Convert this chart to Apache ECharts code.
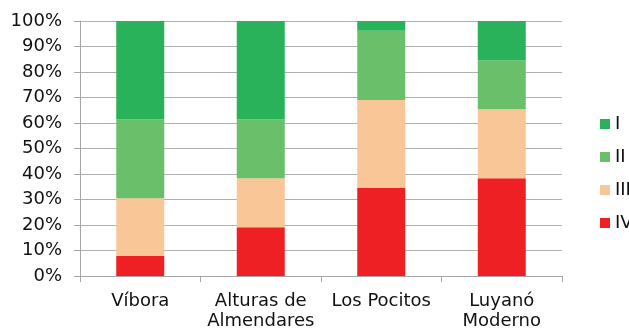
<!DOCTYPE html>
<html lang="es">
<head>
    <meta charset="UTF-8">
    <title>Distribución por categoría</title>
    <script src="https://cdn.jsdelivr.net/npm/echarts/dist/echarts.min.js"></script>
    <style>
        body {
            margin: 0;
            background: #ffffff;
        }
        #chart {
            width: 629px;
            height: 331px;
        }
    </style>
</head>
<body>
    <div id="chart"></div>

    <script>
        // datos
        const categories = ['Víbora', 'Alturas de\nAlmendares', 'Los Pocitos', 'Luyanó\nModerno'];
        const serieIV = [7.8, 19.1, 34.5, 38.3];
        const serieIII = [22.7, 19.2, 34.5, 27.1];
        const serieII = [30.9, 23.1, 27.2, 19.1];
        const serieI = [38.6, 38.6, 3.8, 15.5];
        const yTicks = [0, 10, 20, 30, 40, 50, 60, 70, 80, 90, 100];

        const chart = echarts.init(document.getElementById('chart'));
        const font = 'DejaVu Sans';
        const textColor = '#111111';

        function barSeries(name, data, color) {
            return {
                name: name,
                type: 'bar',
                stack: 'total',
                barWidth: 48,
                data: data,
                itemStyle: { color: color },
                emphasis: { disabled: true }
            };
        }

        chart.setOption({
            animation: false,
            grid: { left: 80, right: 67, top: 21, bottom: 54 },
            legend: {
                data: ['I', 'II', 'III', 'IV'],
                orient: 'vertical',
                left: 595,
                top: 110,
                itemWidth: 10,
                itemHeight: 10,
                itemGap: 15,
                icon: 'rect',
                textStyle: { fontFamily: font, fontSize: 18, color: textColor }
            },
            xAxis: {
                type: 'category',
                data: categories,
                axisLine: { lineStyle: { color: '#a6a6a6' } },
                axisTick: { show: true, length: 6, lineStyle: { color: '#a6a6a6' } },
                axisLabel: {
                    fontFamily: font,
                    fontSize: 18,
                    color: textColor,
                    margin: 15,
                    lineHeight: 20,
                    interval: 0
                }
            },
            yAxis: {
                type: 'value',
                min: yTicks[0],
                max: yTicks[yTicks.length - 1],
                interval: 10,
                axisLine: { show: true, lineStyle: { color: '#a6a6a6' } },
                axisTick: { show: true, length: 6, lineStyle: { color: '#a6a6a6' } },
                splitLine: { lineStyle: { color: '#b0b0b0' } },
                axisLabel: {
                    fontFamily: font,
                    fontSize: 18,
                    color: textColor,
                    margin: 18,
                    formatter: '{value}%'
                }
            },
            series: [
                barSeries('IV', serieIV, '#ee2024'),
                barSeries('III', serieIII, '#f9c697'),
                barSeries('II', serieII, '#6abf6a'),
                barSeries('I', serieI, '#2ab25a')
            ]
        });
    </script>
</body>
</html>
